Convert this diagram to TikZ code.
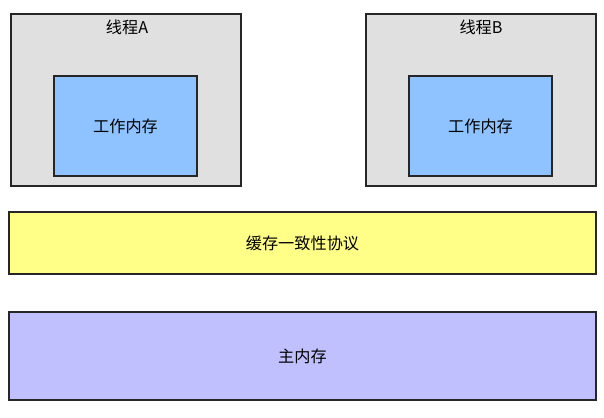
\documentclass[tikz,border=0pt]{standalone}
\usepackage{fontspec}
\newfontfamily\cjk{Noto Sans CJK SC}
\definecolor{threadgray}{HTML}{E0E0E0}
\definecolor{workblue}{HTML}{8FC3FF}
\definecolor{cacheyellow}{HTML}{FFFF88}
\definecolor{mainpurple}{HTML}{C0C0FF}
\tikzset{
  box/.style={draw=black!85,line width=1.1pt,inner sep=0pt,font=\cjk\fontsize{11.5}{13}\selectfont},
  threadbox/.style={box,fill=threadgray},
  workbox/.style={box,fill=workblue},
}
\begin{document}
\begin{tikzpicture}[x=0.025cm,y=-0.025cm]
\useasboundingbox (0,0) rectangle (604,417);
\draw[threadbox] (11,14) rectangle (241,186);
\draw[threadbox] (366,14) rectangle (596,186);
\node[box,draw=none] (labelA) at (127,27) {线程A};
\node[box,draw=none] (labelB) at (481,27) {线程B};
\node[workbox,minimum width=143*0.025cm,minimum height=100*0.025cm] (workA) at (125.5,126) {工作内存};
\node[workbox,minimum width=143*0.025cm,minimum height=100*0.025cm] (workB) at (480.5,126) {工作内存};
\node[box,fill=cacheyellow,minimum width=587*0.025cm,minimum height=62*0.025cm] (cache) at (302.5,243) {缓存一致性协议};
\node[box,fill=mainpurple,minimum width=587*0.025cm,minimum height=88*0.025cm] (main) at (302.5,356) {主内存};
\end{tikzpicture}
\end{document}
